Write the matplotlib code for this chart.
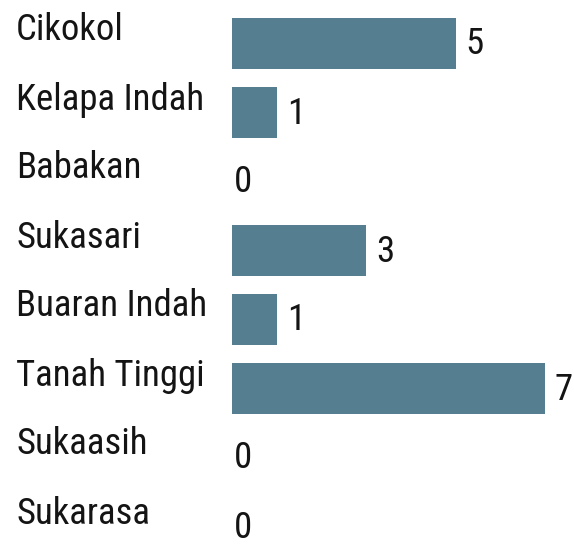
import matplotlib
matplotlib.use("Agg")
import matplotlib.pyplot as plt
import matplotlib.transforms as mtransforms

categories = ["Cikokol", "Kelapa Indah", "Babakan", "Sukasari",
              "Buaran Indah", "Tanah Tinggi", "Sukaasih", "Sukarasa"]
values = [5, 1, 0, 3, 1, 7, 0, 0]

plt.rcParams['font.family'] = ['Roboto Condensed', 'DejaVu Sans']

W, H = 574, 547
fig = plt.figure(figsize=(W / 100, H / 100), dpi=100)
fig.patch.set_facecolor("white")

unit = 44.7          # px per unit
x0 = 232             # px of bar start
row0 = 43.5          # px from top of first row center
d = 69.0             # px per row

ax = fig.add_axes([x0 / W, 0, 1 - x0 / W, 1])
ax.set_xlim(0, (W - x0) / unit)
ax.set_ylim((H - row0) / d, -row0 / d)
ax.axis("off")

bar_color = "#557e91"
text_color = "#141414"
fs = 26.5
pt = 0.72  # points per pixel at 100 dpi

ypos = list(range(len(categories)))
ax.barh(ypos, values, height=0.75, color=bar_color)

lab_tr = mtransforms.blended_transform_factory(fig.transFigure, ax.transData)
lab_off = mtransforms.offset_copy(lab_tr, fig=fig, x=0, y=3 * pt, units='points')
for i, (c, v) in enumerate(zip(categories, values)):
    ax.text(16 / W, i, c, transform=lab_off, ha="left", va="baseline",
            fontsize=fs, color=text_color, clip_on=False)
    gap = 10 if v > 0 else 2
    voff = mtransforms.offset_copy(ax.transData, fig=fig, x=gap * pt, y=-11 * pt, units='points')
    ax.text(v, i, str(v), transform=voff, ha="left", va="baseline",
            fontsize=fs, color=text_color, clip_on=False)

fig.savefig("out.png", dpi=100, facecolor="white")
